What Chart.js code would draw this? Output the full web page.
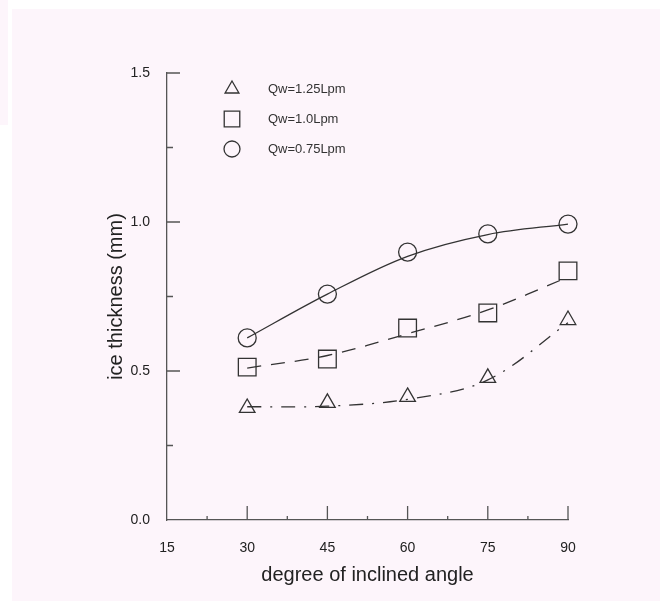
<!DOCTYPE html>
<html lang="en">
<head>
<meta charset="UTF-8">
<title>ice thickness</title>
<script src="https://cdn.jsdelivr.net/npm/chart.js"></script>
<style>
    body { margin: 0; background: #ffffff; }
    #fundo { position: absolute; left: 12px; top: 9px; width: 648px; height: 592px; background: #fdf5fb; }
    #faixa { position: absolute; left: 0; top: 0; width: 8px; height: 125px; background: #fdf5fb; }
    #caixa { position: absolute; left: 0; top: 0; width: 666px; height: 601px; }
</style>
</head>
<body>
<div id="faixa"></div>
<div id="fundo"></div>
<div id="caixa"><canvas id="grafico"></canvas></div>

<script>
    // valores
    var angulos = [30, 45, 60, 75, 90];
    var qw125 = [0.376, 0.393, 0.413, 0.477, 0.671];
    var qw100 = [0.513, 0.540, 0.644, 0.695, 0.836];
    var qw075 = [0.611, 0.758, 0.899, 0.960, 0.993];
    // curvas ajustadas
    var ajuste125 = [0.380, 0.382, 0.405, 0.470, 0.662];
    var ajuste100 = [0.510, 0.552, 0.625, 0.705, 0.815];
    var ajuste075 = [0.611, 0.758, 0.885, 0.958, 0.993];
    var rotulos = ['Qw=1.25Lpm', 'Qw=1.0Lpm', 'Qw=0.75Lpm'];
    var ticksX = [15, 30, 45, 60, 75, 90];
    var ticksY = [0, 0.5, 1.0, 1.5];

    var cor = '#333333';

    function pontos(valores) {
        return angulos.map(function (a, i) { return { x: a, y: valores[i] }; });
    }

    function curva(valores, tracejado) {
        return {
            data: pontos(valores),
            showLine: true,
            borderColor: cor,
            borderWidth: 1.3,
            borderDash: tracejado,
            pointRadius: 0,
            tension: 0.35,
            fill: false,
            clip: false
        };
    }

    function marcador(valores, estilo, raio, nome) {
        return {
            label: nome,
            data: pontos(valores),
            showLine: false,
            pointStyle: estilo,
            pointRadius: raio,
            pointBorderWidth: 1.3,
            pointBorderColor: cor,
            pointBackgroundColor: 'rgba(0,0,0,0)',
            clip: false
        };
    }

    // ticks para dentro e legenda dentro da area
    var extras = {
        id: 'extras',
        afterDraw: function (chart) {
            var ctx = chart.ctx;
            var area = chart.chartArea;
            var sx = chart.scales.x, sy = chart.scales.y;
            ctx.save();
            ctx.strokeStyle = '#555555';
            ctx.lineWidth = 1.3;
            ctx.beginPath();
            ticksX.forEach(function (v, i) {
                var px = sx.getPixelForValue(v);
                if (i > 0) { ctx.moveTo(px, area.bottom); ctx.lineTo(px, area.bottom - 14); }
                if (i < ticksX.length - 1) {
                    var pm = sx.getPixelForValue(v + 7.5);
                    ctx.moveTo(pm, area.bottom); ctx.lineTo(pm, area.bottom - 4);
                }
            });
            ticksY.forEach(function (v, i) {
                var py = sy.getPixelForValue(v);
                if (i > 0) { ctx.moveTo(area.left, py); ctx.lineTo(area.left + 13, py); }
                if (i < ticksY.length - 1) {
                    var pm = sy.getPixelForValue(v + 0.25);
                    ctx.moveTo(area.left, pm); ctx.lineTo(area.left + 6, pm);
                }
            });
            ctx.stroke();

            var estilos = ['triangle', 'rect', 'circle'];
            var raios = [8, 11, 8];
            ctx.font = '13px "Liberation Sans", Arial, sans-serif';
            ctx.textBaseline = 'middle';
            for (var i = 0; i < 3; i++) {
                var y = area.top + 16 + i * 30;
                var x = area.left + 65;
                ctx.strokeStyle = cor;
                ctx.fillStyle = 'rgba(0,0,0,0)';
                ctx.lineWidth = 1.3;
                Chart.helpers.drawPoint(ctx, { pointStyle: estilos[i], radius: raios[i], borderWidth: 1.3 }, x, y);
                ctx.fillStyle = cor;
                ctx.fillText(rotulos[i], area.left + 101, y);
            }
            ctx.restore();
        }
    };

    var config = {
        type: 'scatter',
        data: {
            datasets: [
                curva(ajuste075, []),
                curva(ajuste100, [14, 10]),
                curva(ajuste125, [14, 9, 2, 9]),
                marcador(qw125, 'triangle', 9, rotulos[0]),
                marcador(qw100, 'rect', 12.5, rotulos[1]),
                marcador(qw075, 'circle', 9, rotulos[2])
            ]
        },
        options: {
            responsive: false,
            animation: false,
            layout: { padding: { left: 104, right: 98, top: 73, bottom: 10 } },
            plugins: { legend: { display: false }, tooltip: { enabled: false } },
            scales: {
                x: {
                    type: 'linear',
                    min: 15,
                    max: 90,
                    afterBuildTicks: function (s) { s.ticks = ticksX.map(function (v) { return { value: v }; }); },
                    grid: { display: false },
                    border: { display: true, color: '#555555', width: 1.3 },
                    ticks: { color: '#222222', font: { size: 14, family: '"Liberation Sans", Arial' }, padding: 12 },
                    title: {
                        display: true,
                        text: 'degree of inclined angle',
                        color: '#222222',
                        font: { size: 20, family: '"Liberation Sans", Arial' },
                        padding: { top: 6, bottom: 4 }
                    },
                    afterFit: function (s) { s.height = 71; }
                },
                y: {
                    min: 0,
                    max: 1.5,
                    afterBuildTicks: function (s) { s.ticks = ticksY.map(function (v) { return { value: v }; }); },
                    grid: { display: false },
                    border: { display: true, color: '#555555', width: 1.3 },
                    ticks: {
                        color: '#222222',
                        font: { size: 14, family: '"Liberation Sans", Arial' },
                        padding: 9,
                        callback: function (v) { return Number(v).toFixed(1); }
                    },
                    title: {
                        display: true,
                        text: 'ice thickness (mm)',
                        color: '#222222',
                        font: { size: 20, family: '"Liberation Sans", Arial' },
                        padding: { top: 0, bottom: 0 }
                    },
                    afterFit: function (s) { s.width = 63; }
                }
            }
        },
        plugins: [extras]
    };

    var canvas = document.getElementById('grafico');
    canvas.width = 666;
    canvas.height = 601;
    new Chart(canvas.getContext('2d'), config);
</script>
</body>
</html>
